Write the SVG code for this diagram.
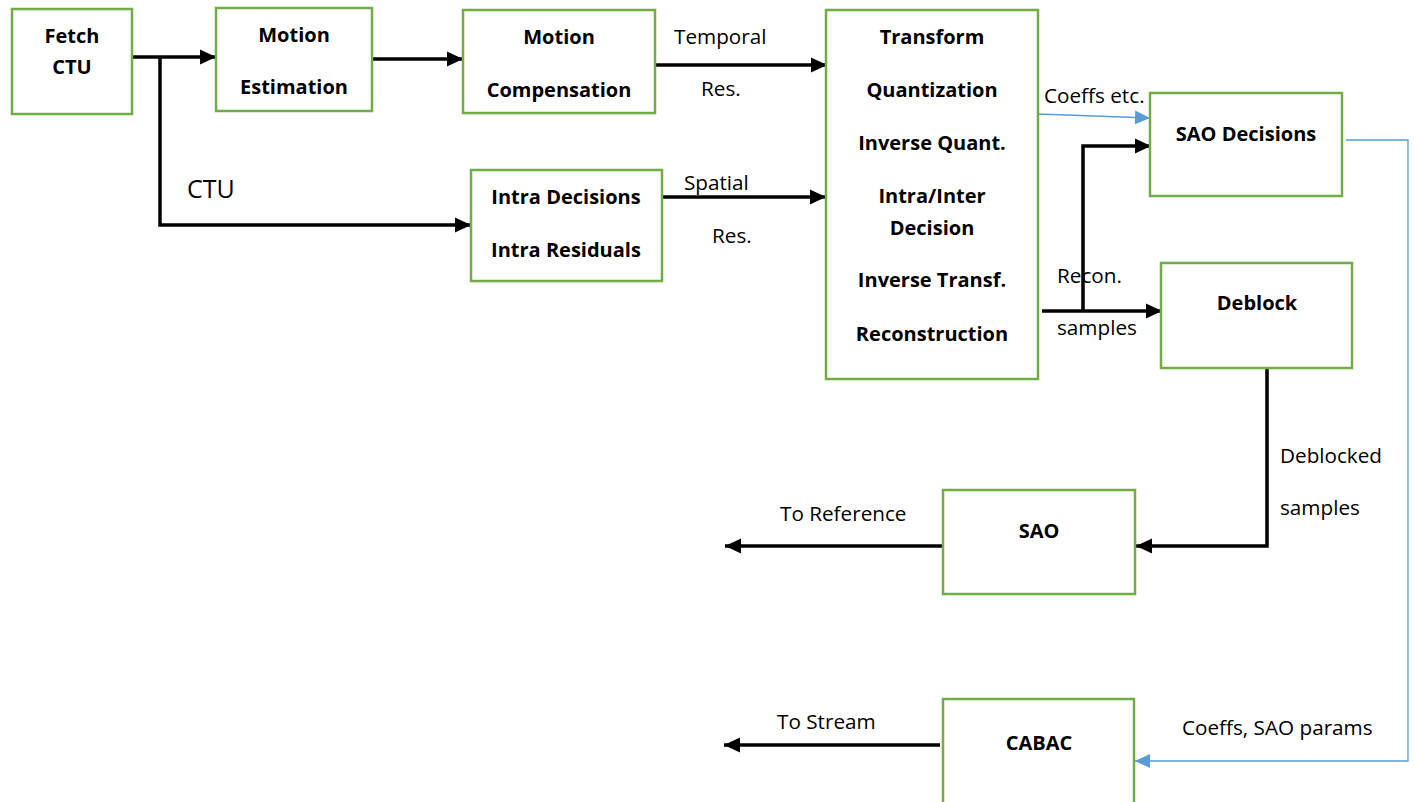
<svg xmlns="http://www.w3.org/2000/svg" width="1415" height="802" viewBox="0 0 1415 802">
<style>
.box{fill:#fff;stroke:#70AD47;stroke-width:2.5}
.b{font-family:"Open Sans","Liberation Sans",sans-serif;font-weight:bold;font-size:20px;fill:#000;text-anchor:middle}
.t{font-family:"Open Sans","Liberation Sans",sans-serif;font-size:20.7px;fill:#000}
.k{fill:none;stroke:#000;stroke-width:3.5}
.u{fill:none;stroke:#5B9BD5;stroke-width:1.3}
</style>
<defs>
<marker id="ak" markerUnits="userSpaceOnUse" markerWidth="17" markerHeight="17" refX="16" refY="8.5" orient="auto"><path d="M0,1 L16,8.5 L0,16 z" fill="#000"/></marker>
<marker id="ab" markerUnits="userSpaceOnUse" markerWidth="16" markerHeight="16" refX="15" refY="8" orient="auto"><path d="M0,1 L15,8 L0,15 z" fill="#5B9BD5"/></marker>
</defs>
<rect width="1415" height="802" fill="#fff"/>
<g id="connectors">
<path class="k" d="M133,57 H216" marker-end="url(#ak)"/>
<path class="k" d="M160,57 V225 H471" marker-end="url(#ak)"/>
<path class="k" d="M372,59 H463" marker-end="url(#ak)"/>
<path class="k" d="M655,65 H827" marker-end="url(#ak)"/>
<path class="k" d="M662,197 H826" marker-end="url(#ak)"/>
<path class="k" d="M1042,311 H1162" marker-end="url(#ak)"/>
<path class="k" d="M1083,311 V146 H1151" marker-end="url(#ak)"/>
<path class="k" d="M1267,368 V546 H1136" marker-end="url(#ak)"/>
<path class="k" d="M943,546 H725" marker-end="url(#ak)"/>
<path class="k" d="M940,745 H724" marker-end="url(#ak)"/>
<path class="u" d="M1038,114 L1150,118" marker-end="url(#ab)"/>
<path class="u" d="M1346,140 H1408 V761 H1135" marker-end="url(#ab)"/>
<text class="t" x="187" y="198" style="font-size:25px">CTU</text>
<text class="t" x="674" y="44">Temporal</text>
<text class="t" x="701" y="96">Res.</text>
<text class="t" x="684" y="190">Spatial</text>
<text class="t" x="712" y="243">Res.</text>
<text class="t" x="1044" y="103">Coeffs etc.</text>
<text class="t" x="1057" y="283">Recon.</text>
<text class="t" x="1057" y="335">samples</text>
<text class="t" x="1280" y="463">Deblocked</text>
<text class="t" x="1280" y="515">samples</text>
<text class="t" x="780" y="521">To Reference</text>
<text class="t" x="777" y="729">To Stream</text>
<text class="t" x="1182" y="735">Coeffs, SAO params</text>
</g>
<g id="fetch"><rect class="box" x="12" y="9" width="120" height="105"/><text class="b" x="72" y="43">Fetch</text><text class="b" x="72" y="74">CTU</text></g>
<g id="me"><rect class="box" x="216" y="8" width="156" height="103"/><text class="b" x="294" y="42">Motion</text><text class="b" x="294" y="94">Estimation</text></g>
<g id="mc"><rect class="box" x="463" y="10" width="192" height="103"/><text class="b" x="559" y="44">Motion</text><text class="b" x="559" y="97">Compensation</text></g>
<g id="transform"><rect class="box" x="826" y="10" width="212" height="369"/>
<text class="b" x="932" y="44">Transform</text>
<text class="b" x="932" y="97">Quantization</text>
<text class="b" x="932" y="150">Inverse Quant.</text>
<text class="b" x="932" y="203">Intra/Inter</text>
<text class="b" x="932" y="235">Decision</text>
<text class="b" x="932" y="287">Inverse Transf.</text>
<text class="b" x="932" y="341">Reconstruction</text></g>
<g id="intra"><rect class="box" x="471" y="170" width="191" height="111"/><text class="b" x="566" y="204">Intra Decisions</text><text class="b" x="566" y="257">Intra Residuals</text></g>
<g id="saodec"><rect class="box" x="1150" y="93" width="192" height="103"/><text class="b" x="1246" y="141">SAO Decisions</text></g>
<g id="deblock"><rect class="box" x="1161" y="263" width="191" height="105"/><text class="b" x="1257" y="310">Deblock</text></g>
<g id="sao"><rect class="box" x="943" y="490" width="192" height="104"/><text class="b" x="1039" y="538">SAO</text></g>
<g id="cabac"><rect class="box" x="943" y="699" width="191" height="130"/><text class="b" x="1039" y="750">CABAC</text></g>
</svg>
